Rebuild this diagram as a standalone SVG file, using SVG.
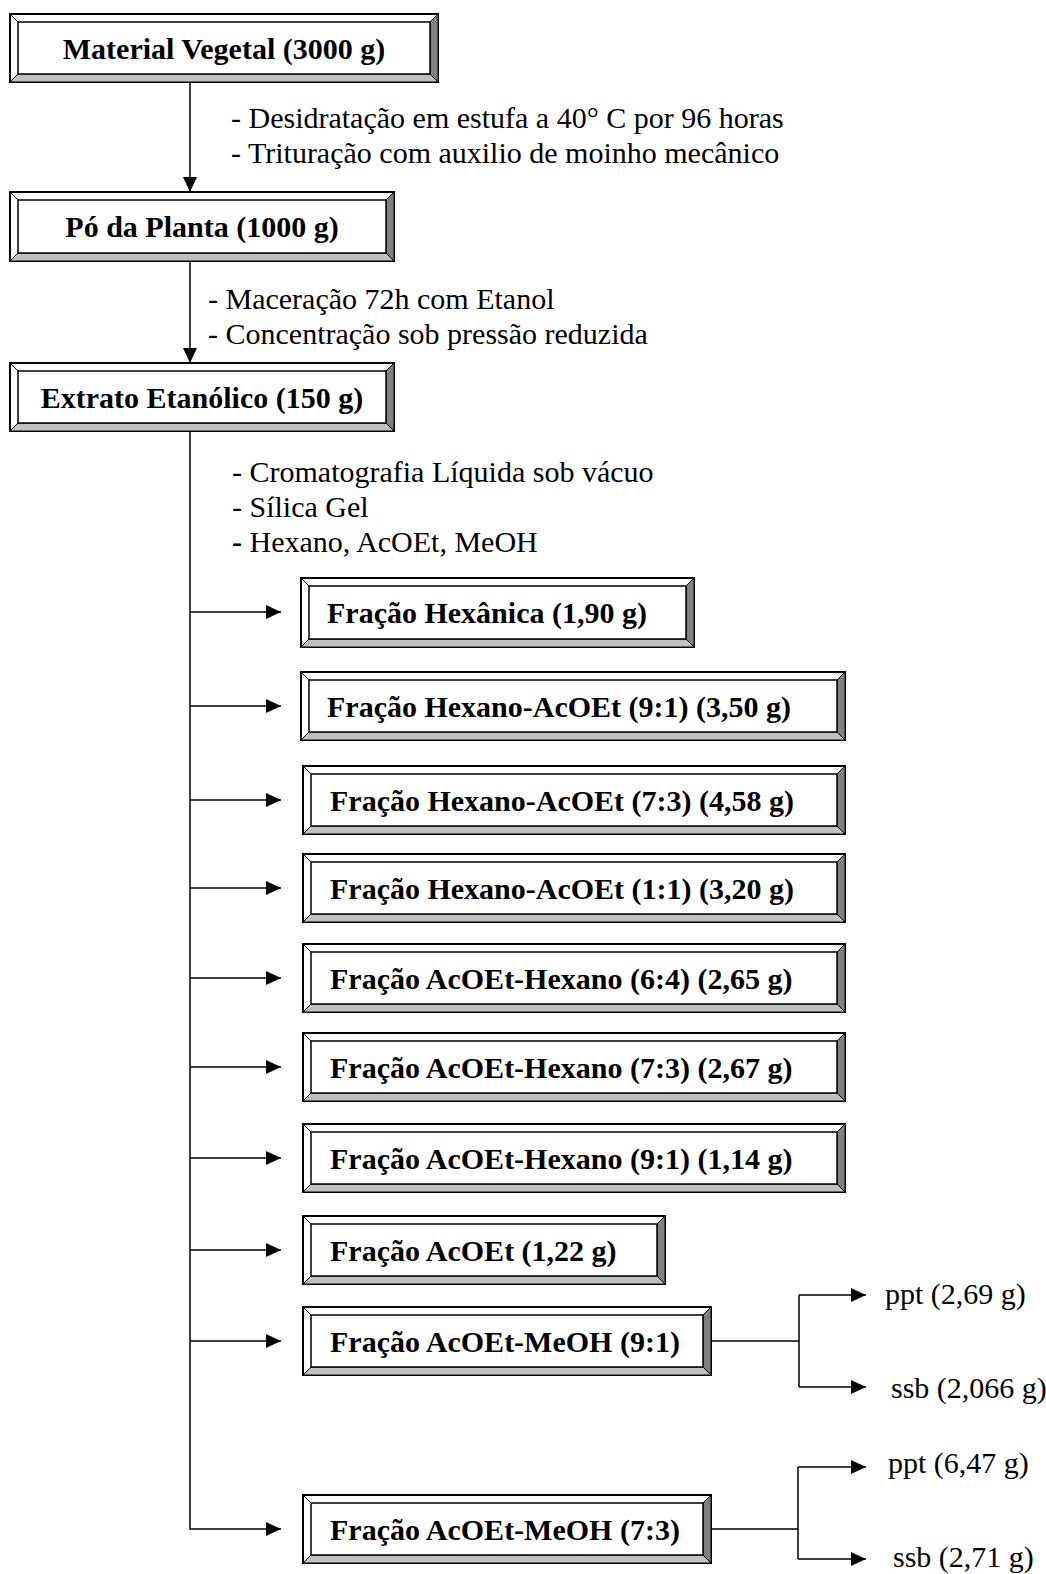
<svg xmlns="http://www.w3.org/2000/svg" width="1046" height="1574" viewBox="0 0 1046 1574">
<defs>
<marker id="ah" viewBox="0 0 15 14" refX="15" refY="7" markerWidth="15" markerHeight="14" markerUnits="userSpaceOnUse" orient="auto"><path d="M0,0 L15,7 L0,14 z" fill="#000"/></marker>
</defs>
<style>
.o{fill:#fff;stroke:#000;stroke-width:2}
.r{fill:#808080;stroke:#000;stroke-width:1}
.b{fill:#c0c0c0;stroke:#000;stroke-width:1}
.i{fill:#fff;stroke:#000;stroke-width:1.5}
.d{stroke:#000;stroke-width:1}
.bx{font-family:"Liberation Serif","Times New Roman",serif;font-size:30px;font-weight:bold;fill:#000}
.t{font-family:"Liberation Serif","Times New Roman",serif;font-size:30px;fill:#000}
.c{fill:none;stroke:#000;stroke-width:1.5}
.ar{marker-end:url(#ah)}
</style>
<rect width="1046" height="1574" fill="#fff"/>

<g id="connectors">
<path class="c ar" d="M190,82 V192"/>
<path class="c ar" d="M190,261 V363"/>
<path class="c ar" d="M190,431 V1529 H281"/>
<path class="c ar" d="M190,612 H281"/>
<path class="c ar" d="M190,706 H281"/>
<path class="c ar" d="M190,800 H281"/>
<path class="c ar" d="M190,888 H281"/>
<path class="c ar" d="M190,978 H281"/>
<path class="c ar" d="M190,1067 H281"/>
<path class="c ar" d="M190,1158 H281"/>
<path class="c ar" d="M190,1250 H281"/>
<path class="c ar" d="M190,1341 H281"/>
<path class="c" d="M711,1341 H799 M799,1295 V1387"/>
<path class="c ar" d="M799,1295 H866"/>
<path class="c ar" d="M799,1387 H866"/>
<path class="c" d="M711,1529 H798 M798,1467 V1559"/>
<path class="c ar" d="M798,1467 H866"/>
<path class="c ar" d="M798,1559 H866"/>
</g>

<g id="notes">
<text class="t" x="231" y="128">- Desidratação em estufa a 40° C por 96 horas</text>
<text class="t" x="231" y="163">- Trituração com auxilio de moinho mecânico</text>
<text class="t" x="208" y="309">- Maceração 72h com Etanol</text>
<text class="t" x="208" y="344">- Concentração sob pressão reduzida</text>
<text class="t" x="232" y="482">- Cromatografia Líquida sob vácuo</text>
<text class="t" x="232" y="517">- Sílica Gel</text>
<text class="t" x="232" y="552"><tspan font-weight="bold">-</tspan> Hexano, AcOEt, MeOH</text>
</g>

<g id="n1">
<rect class="o" x="10" y="14" width="428" height="68"/>
<polygon class="r" points="438,14 438,82 430,74 430,22"/>
<polygon class="b" points="10,82 438,82 430,74 18,74"/>
<line class="d" x1="10" y1="14" x2="18" y2="22"/>
<rect class="i" x="18" y="22" width="412" height="52"/>
<text class="bx" text-anchor="middle" x="224" y="59">Material Vegetal (3000 g)</text>
</g>

<g id="n2">
<rect class="o" x="10" y="192" width="384" height="69"/>
<polygon class="r" points="394,192 394,261 386,253 386,200"/>
<polygon class="b" points="10,261 394,261 386,253 18,253"/>
<line class="d" x1="10" y1="192" x2="18" y2="200"/>
<rect class="i" x="18" y="200" width="368" height="53"/>
<text class="bx" text-anchor="middle" x="202" y="237">Pó da Planta (1000 g)</text>
</g>

<g id="n3">
<rect class="o" x="10" y="363" width="384" height="68"/>
<polygon class="r" points="394,363 394,431 386,423 386,371"/>
<polygon class="b" points="10,431 394,431 386,423 18,423"/>
<line class="d" x1="10" y1="363" x2="18" y2="371"/>
<rect class="i" x="18" y="371" width="368" height="52"/>
<text class="bx" text-anchor="middle" x="202" y="408">Extrato Etanólico (150 g)</text>
</g>

<g id="n4">
<rect class="o" x="301" y="578" width="393" height="69"/>
<polygon class="r" points="694,578 694,647 686,639 686,586"/>
<polygon class="b" points="301,647 694,647 686,639 309,639"/>
<line class="d" x1="301" y1="578" x2="309" y2="586"/>
<rect class="i" x="309" y="586" width="377" height="53"/>
<text class="bx" x="327" y="623">Fração Hexânica (1,90 g)</text>
</g>

<g id="n5">
<rect class="o" x="301" y="672" width="544" height="68"/>
<polygon class="r" points="845,672 845,740 837,732 837,680"/>
<polygon class="b" points="301,740 845,740 837,732 309,732"/>
<line class="d" x1="301" y1="672" x2="309" y2="680"/>
<rect class="i" x="309" y="680" width="528" height="52"/>
<text class="bx" x="327" y="717">Fração Hexano-AcOEt (9:1) (3,50 g)</text>
</g>

<g id="n6">
<rect class="o" x="303" y="766" width="542" height="68"/>
<polygon class="r" points="845,766 845,834 837,826 837,774"/>
<polygon class="b" points="303,834 845,834 837,826 311,826"/>
<line class="d" x1="303" y1="766" x2="311" y2="774"/>
<rect class="i" x="311" y="774" width="526" height="52"/>
<text class="bx" x="330" y="811">Fração Hexano-AcOEt (7:3) (4,58 g)</text>
</g>

<g id="n7">
<rect class="o" x="303" y="854" width="542" height="68"/>
<polygon class="r" points="845,854 845,922 837,914 837,862"/>
<polygon class="b" points="303,922 845,922 837,914 311,914"/>
<line class="d" x1="303" y1="854" x2="311" y2="862"/>
<rect class="i" x="311" y="862" width="526" height="52"/>
<text class="bx" x="330" y="899">Fração Hexano-AcOEt (1:1) (3,20 g)</text>
</g>

<g id="n8">
<rect class="o" x="303" y="944" width="542" height="68"/>
<polygon class="r" points="845,944 845,1012 837,1004 837,952"/>
<polygon class="b" points="303,1012 845,1012 837,1004 311,1004"/>
<line class="d" x1="303" y1="944" x2="311" y2="952"/>
<rect class="i" x="311" y="952" width="526" height="52"/>
<text class="bx" x="330" y="989">Fração AcOEt-Hexano (6:4) (2,65 g)</text>
</g>

<g id="n9">
<rect class="o" x="303" y="1033" width="542" height="68"/>
<polygon class="r" points="845,1033 845,1101 837,1093 837,1041"/>
<polygon class="b" points="303,1101 845,1101 837,1093 311,1093"/>
<line class="d" x1="303" y1="1033" x2="311" y2="1041"/>
<rect class="i" x="311" y="1041" width="526" height="52"/>
<text class="bx" x="330" y="1078">Fração AcOEt-Hexano (7:3) (2,67 g)</text>
</g>

<g id="n10">
<rect class="o" x="303" y="1124" width="542" height="68"/>
<polygon class="r" points="845,1124 845,1192 837,1184 837,1132"/>
<polygon class="b" points="303,1192 845,1192 837,1184 311,1184"/>
<line class="d" x1="303" y1="1124" x2="311" y2="1132"/>
<rect class="i" x="311" y="1132" width="526" height="52"/>
<text class="bx" x="330" y="1169">Fração AcOEt-Hexano (9:1) (1,14 g)</text>
</g>

<g id="n11">
<rect class="o" x="303" y="1216" width="362" height="68"/>
<polygon class="r" points="665,1216 665,1284 657,1276 657,1224"/>
<polygon class="b" points="303,1284 665,1284 657,1276 311,1276"/>
<line class="d" x1="303" y1="1216" x2="311" y2="1224"/>
<rect class="i" x="311" y="1224" width="346" height="52"/>
<text class="bx" x="330" y="1261">Fração AcOEt (1,22 g)</text>
</g>

<g id="n12">
<rect class="o" x="303" y="1307" width="408" height="68"/>
<polygon class="r" points="711,1307 711,1375 703,1367 703,1315"/>
<polygon class="b" points="303,1375 711,1375 703,1367 311,1367"/>
<line class="d" x1="303" y1="1307" x2="311" y2="1315"/>
<rect class="i" x="311" y="1315" width="392" height="52"/>
<text class="bx" x="330" y="1352">Fração AcOEt-MeOH (9:1)</text>
</g>

<g id="n13">
<rect class="o" x="303" y="1495" width="408" height="68"/>
<polygon class="r" points="711,1495 711,1563 703,1555 703,1503"/>
<polygon class="b" points="303,1563 711,1563 703,1555 311,1555"/>
<line class="d" x1="303" y1="1495" x2="311" y2="1503"/>
<rect class="i" x="311" y="1503" width="392" height="52"/>
<text class="bx" x="330" y="1540">Fração AcOEt-MeOH (7:3)</text>
</g>

<g id="n14"><text class="t" x="885" y="1304">ppt (2,69 g)</text></g>
<g id="n15"><text class="t" x="891" y="1398">ssb (2,066 g)</text></g>
<g id="n16"><text class="t" x="888" y="1473">ppt (6,47 g)</text></g>
<g id="n17"><text class="t" x="893" y="1567">ssb (2,71 g)</text></g>
</svg>
